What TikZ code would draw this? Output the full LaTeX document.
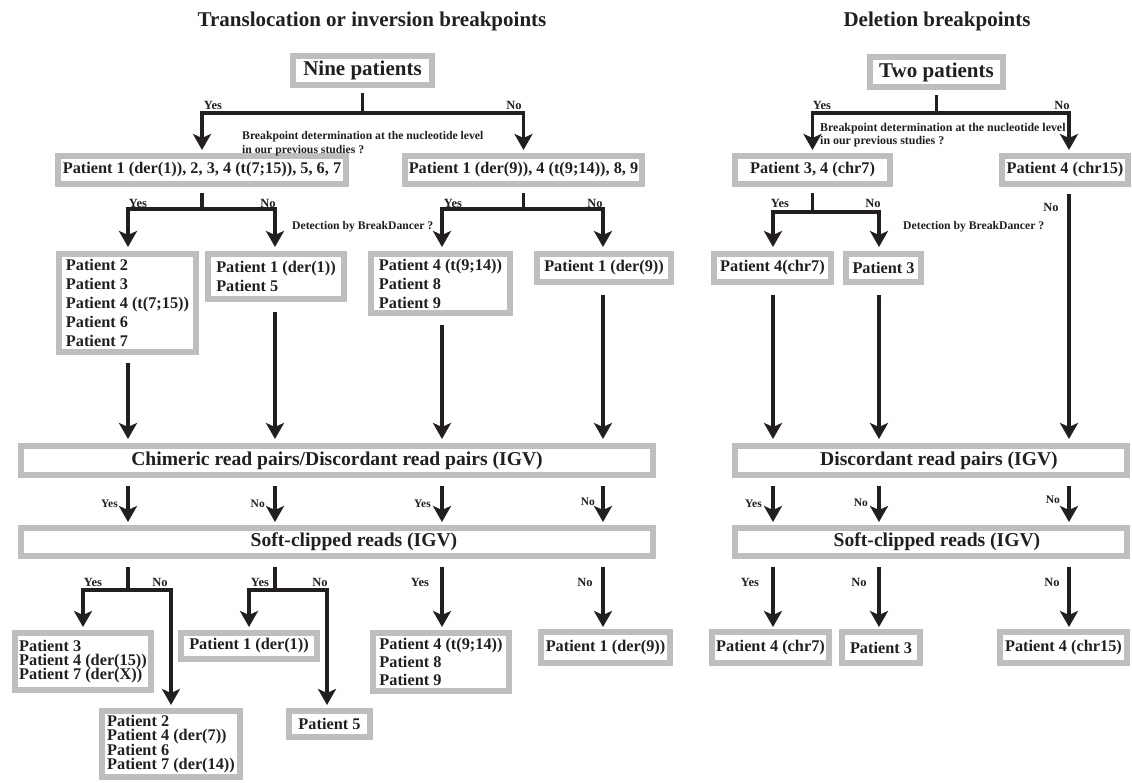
\documentclass[tikz,border=0pt]{standalone}
\usepackage{fontspec}
\setmainfont{Liberation Serif}
\usetikzlibrary{arrows.meta,calc}
\definecolor{bgray}{RGB}{190,190,190}
\definecolor{ink}{RGB}{35,31,32}
\newcommand\pfont{\fontsize{16.3}{19}\selectfont\bfseries}
\newcommand\pfonttight{\fontsize{16.3}{14.3}\selectfont\bfseries\lineskiplimit=-20pt}
\newcommand\pfontmid{\fontsize{16.3}{18.3}\selectfont\bfseries}
\newcommand\bigfont{\fontsize{19.6}{24}\selectfont\bfseries}
\newcommand\headfont{\fontsize{21}{24}\selectfont\bfseries}
\newcommand\titfont{\fontsize{21}{24}\selectfont\bfseries}
\newcommand\lblfont{\fontsize{12.5}{14}\selectfont\bfseries}
\newcommand\smlblfont{\fontsize{11.5}{13}\selectfont\bfseries}
\newcommand\qfont{\fontsize{11.7}{14}\selectfont\bfseries}
\newcommand\qfontR{\fontsize{11.9}{13}\selectfont\bfseries}
\tikzset{
  box/.style={draw=bgray, line width=6pt, fill=white, inner sep=0pt, align=left, text=ink, font=\pfont},
  ln/.style={draw=ink, line width=3.6pt},
  arr/.style={ln, -{Stealth[length=16pt,width=18pt,inset=4pt]}},
  lbl/.style={text=ink, font=\lblfont, inner sep=0pt},
  slbl/.style={text=ink, font=\smlblfont, inner sep=0pt},
  qtext/.style={text=ink, font=\qfont, inner sep=0pt, align=left, anchor=west},
  ttl/.style={text=ink, font=\titfont, inner sep=0pt}
}
\begin{document}
\begin{tikzpicture}[x=1pt,y=-1pt]
\useasboundingbox[fill=white] (0,0) rectangle (1132,782);

% titles
\node[ttl] (t1) at (372,21) {Translocation or inversion breakpoints};
\node[ttl] (t2) at (937,21) {Deletion breakpoints};

% columns and rows
\coordinate (L1) at (128,0);
\coordinate (L2) at (275,0);
\coordinate (L3) at (442,0);
\coordinate (L4) at (603,0);
\coordinate (R1) at (773,0);
\coordinate (R2) at (879,0);
\coordinate (R3) at (1069,0);
\coordinate (yA) at (0,113);
\coordinate (yB) at (0,209);
\coordinate (yB2) at (0,212);
\coordinate (tip1) at (0,150);
\coordinate (tip2) at (0,247);
\coordinate (tipC) at (0,439);
\coordinate (mT) at (0,522);
\coordinate (bH) at (0,590);
\coordinate (bT1) at (0,627);
\coordinate (bT2) at (0,705);

% level 0
\node[box, font=\headfont, minimum width=139pt, minimum height=29pt] (nine) at (362.5,70.5) {Nine patients};
\node[box, font=\headfont, minimum width=133pt, minimum height=30pt] (two) at (936.5,72) {Two patients};

% level 1
\node[box, minimum width=288pt, minimum height=28pt] (b1) at (202,170) {Patient 1 (der(1)), 2, 3, 4 (t(7;15)), 5, 6, 7};
\node[box, minimum width=237pt, minimum height=28pt] (b2) at (523.5,170) {Patient 1 (der(9)), 4 (t(9;14)), 8, 9};
\node[box, minimum width=155pt, minimum height=28pt] (b3) at (812.5,170) {Patient 3, 4 (chr7)};
\node[box, minimum width=126pt, minimum height=28pt] (b4) at (1065,170) {Patient 4 (chr15)};

% level 2
\node[box, minimum width=137pt, minimum height=98pt] (c1) at (127.5,303) {Patient 2\\Patient 3\\Patient 4 (t(7;15))\\Patient 6\\Patient 7};
\node[box, minimum width=136pt, minimum height=45pt] (c2) at (276,276.5) {Patient 1 (der(1))\\Patient 5};
\node[box, minimum width=139pt, minimum height=59pt] (c3) at (440.5,283.5) {Patient 4 (t(9;14))\\Patient 8\\Patient 9};
\node[box, minimum width=134pt, minimum height=28pt] (c4) at (604,268) {Patient 1 (der(9))};
\node[box, minimum width=117pt, minimum height=28pt] (c5) at (772.5,268) {Patient 4(chr7)};
\node[box, minimum width=75pt, minimum height=28pt] (c6) at (883.5,268) {Patient 3};

% wide boxes
\node[box, font=\bigfont, minimum width=632pt, minimum height=29pt] (chim) at (337,460.5) {Chimeric read pairs/Discordant read pairs (IGV)};
\node[box, font=\bigfont, minimum width=392pt, minimum height=29pt] (disc) at (931,460.5) {\hspace*{16pt}Discordant read pairs (IGV)};
\node[box, font=\bigfont, minimum width=632pt, minimum height=28pt] (softL) at (337,542) {\hspace*{34pt}Soft-clipped reads (IGV)};
\node[box, font=\bigfont, minimum width=392pt, minimum height=28pt] (softR) at (931,542) {\hspace*{12pt}Soft-clipped reads (IGV)};

% bottom boxes
\node[box, font=\pfonttight, minimum width=136pt, minimum height=57pt] (dA) at (83,661.5) {Patient 3\\Patient 4 (der(15))\\Patient 7 (der(X))};
\node[box, font=\pfonttight, minimum width=138pt, minimum height=66pt] (dB) at (171,744) {Patient 2\\Patient 4 (der(7))\\Patient 6\\Patient 7 (der(14))};
\node[box, minimum width=136pt, minimum height=26pt] (dC) at (249,646) {Patient 1 (der(1))};
\node[box, minimum width=81pt, minimum height=26pt] (dD) at (329.5,724) {Patient 5};
\node[box, font=\pfontmid, minimum width=136pt, minimum height=58pt] (dE) at (441,662) {Patient 4 (t(9;14))\\Patient 8\\Patient 9};
\node[box, minimum width=129pt, minimum height=31pt] (dF) at (605.5,647.5) {Patient 1 (der(9))};
\node[box, minimum width=117pt, minimum height=31pt] (dG) at (770.5,647.5) {Patient 4 (chr7)};
\node[box, minimum width=78pt, minimum height=31pt] (dH) at (881,647.5) {Patient 3};
\node[box, minimum width=127pt, minimum height=31pt] (dI) at (1063.5,647.5) {Patient 4 (chr15)};

% questions
\node[qtext] (q1) at (242,144) {Breakpoint determination at the nucleotide level\\in our previous studies ?};
\node[qtext, font=\qfontR] (q2) at (820,135.5) {Breakpoint determination at the nucleotide level\\in our previous studies ?};
\node[qtext] (q3) at (292,227) {Detection by BreakDancer ?};
\node[qtext] (q4) at (903,227) {Detection by BreakDancer ?};

% ---- left tree connectors
\draw[ln] ($(nine.south)+(0,5)$) -- (nine.south |- yA);
\draw[arr] (nine.south |- yA) -| (b1.north |- tip1);
\draw[arr] (nine.south |- yA) -| (b2.north |- tip1);
\node[lbl] (y1) at (213,105) {Yes};
\node[lbl] (n1) at (514,105) {No};

\draw[ln] ($(b1.south)+(0,6)$) -- (b1.south |- yB);
\draw[arr] (b1.south |- yB) -| (L1 |- tip2);
\draw[arr] (b1.south |- yB) -| (L2 |- tip2);
\node[lbl] (y2) at (138,203) {Yes};
\node[lbl] (n2) at (268,203) {No};

\draw[ln] ($(b2.south)+(0,6)$) -- (b2.south |- yB);
\draw[arr] (b2.south |- yB) -| (L3 |- tip2);
\draw[arr] (b2.south |- yB) -| (L4 |- tip2);
\node[lbl] (y3) at (453,203) {Yes};
\node[lbl] (n3) at (595,203) {No};

\draw[arr] ($(c1.south -| L1)+(0,8)$) -- (L1 |- tipC);
\draw[arr] ($(c2.south -| L2)+(0,10)$) -- (L2 |- tipC);
\draw[arr] ($(c3.south -| L3)+(0,9)$) -- (L3 |- tipC);
\draw[arr] ($(c4.south -| L4)+(0,10)$) -- (L4 |- tipC);

\draw[arr] ($(chim.south -| L1)+(0,8)$) -- (L1 |- mT);
\draw[arr] ($(chim.south -| L2)+(0,8)$) -- (L2 |- mT);
\draw[arr] ($(chim.south -| L3)+(0,8)$) -- (L3 |- mT);
\draw[arr] ($(chim.south -| L4)+(0,8)$) -- (L4 |- mT);
\node[slbl, anchor=east] (y4) at (118,504) {Yes};
\node[slbl, anchor=east] (n4) at (265,504) {No};
\node[slbl, anchor=east] (y5) at (431,504) {Yes};
\node[slbl, anchor=east] (n5) at (595,502) {No};

\draw[ln] ($(softL.south -| L1)+(0,8)$) -- (L1 |- bH);
\draw[arr] (L1 |- bH) -| (dA.north |- bT1);
\draw[arr] (L1 |- bH) -| (dB.north |- bT2);
\node[lbl] (y6) at (93,582) {Yes};
\node[lbl] (n6) at (160,582) {No};

\draw[ln] ($(softL.south -| L2)+(0,8)$) -- (L2 |- bH);
\draw[arr] (L2 |- bH) -| (dC.north |- bT1);
\draw[arr] (L2 |- bH) -| (327,705);
\node[lbl] (y7) at (260,582) {Yes};
\node[lbl] (n7) at (320,582) {No};

\draw[arr] ($(softL.south -| L3)+(0,8)$) -- (L3 |- bT1);
\node[lbl] (y8) at (420,582) {Yes};
\draw[arr] ($(softL.south -| L4)+(0,8)$) -- (L4 |- bT1);
\node[lbl] (n8) at (585,582) {No};

% ---- right tree connectors
\draw[ln] ($(two.south)+(0,5)$) -- (two.south |- yA);
\draw[arr] (two.south |- yA) -| (b3.north |- tip1);
\draw[arr] (two.south |- yA) -| (R3 |- tip1);
\node[lbl] (y9) at (822,105) {Yes};
\node[lbl] (n9) at (1062,105) {No};

\draw[ln] ($(b3.south)+(0,6)$) -- (b3.south |- yB2);
\draw[arr] (b3.south |- yB2) -| (R1 |- tip2);
\draw[arr] (b3.south |- yB2) -| (R2 |- tip2);
\node[lbl] (y10) at (780,203) {Yes};
\node[lbl] (n10) at (873,203) {No};
\node[lbl] (n11) at (1051,207) {No};

\draw[arr] ($(b4.south -| R3)+(0,7)$) -- (R3 |- tipC);
\draw[arr] ($(c5.south -| R1)+(0,10)$) -- (R1 |- tipC);
\draw[arr] ($(c6.south -| R2)+(0,10)$) -- (R2 |- tipC);

\draw[arr] ($(disc.south -| R1)+(0,8)$) -- (R1 |- mT);
\draw[arr] ($(disc.south -| R2)+(0,8)$) -- (R2 |- mT);
\draw[arr] ($(disc.south -| R3)+(0,8)$) -- (R3 |- mT);
\node[slbl, anchor=east] (y12) at (762,504) {Yes};
\node[slbl, anchor=east] (n12) at (868,503) {No};
\node[slbl, anchor=east] (n13) at (1060,500) {No};

\draw[arr] ($(softR.south -| R1)+(0,8)$) -- (R1 |- bT1);
\draw[arr] ($(softR.south -| R2)+(0,8)$) -- (R2 |- bT1);
\draw[arr] ($(softR.south -| R3)+(0,8)$) -- (R3 |- bT1);
\node[lbl] (y14) at (750,582) {Yes};
\node[lbl] (n14) at (859,582) {No};
\node[lbl] (n15) at (1052,582) {No};
\end{tikzpicture}
\end{document}
